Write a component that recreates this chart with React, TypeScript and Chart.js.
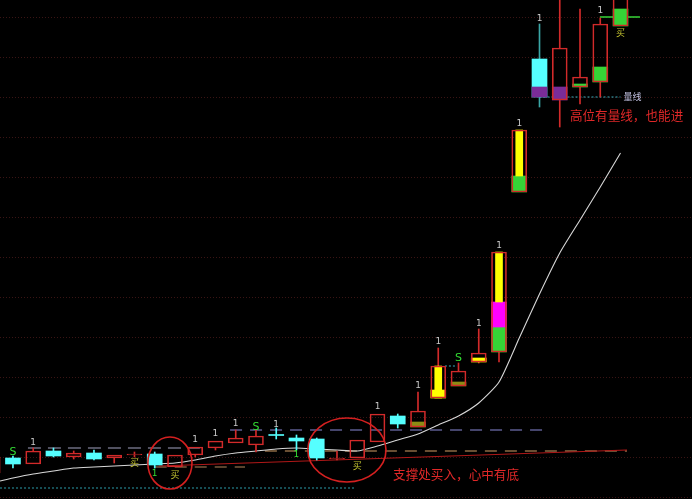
import React, { useEffect, useRef } from 'react';
import { Chart, registerables } from 'chart.js';

Chart.register(...registerables);

// ---------------- data ----------------
const candleIdx = [-1, 0, 1, 2, 3, 4, 5, 6, 7, 8, 9, 10, 11, 12, 13, 14, 15, 16, 17, 18, 19, 20, 21, 22, 23, 24, 25, 26, 27, 28, 29, 30];
const candleKind = ['r', 'c', 'r', 'c', 'r', 'c', 'r', 'r', 'c', 'r', 'r', 'r', 'r', 'r', 'c', 'c', 'c', 'r', 'r', 'r', 'c', 'r', 'r', 'r', 'r', 'r', 'r', 't', 'r', 'r', 'r', 'r'];
const bodyLow = [2.4, 3.3, 3.3, 4.1, 4.0, 3.8, 3.9, 4.2, 3.2, 3.0, 4.2, 4.9, 5.4, 5.2, 6.15, 5.6, 3.9, 3.8, 3.9, 5.5, 7.3, 7.0, 9.9, 11.1, 13.5, 14.5, 30.5, 40.0, 39.7, 41.0, 41.5, 47.1];
const bodyHigh = [4.0, 3.9, 4.6, 4.6, 4.4, 4.4, 4.2, 4.3, 4.3, 4.2, 5.0, 5.6, 5.9, 6.1, 6.25, 5.9, 5.8, 3.9, 5.7, 8.3, 8.1, 8.6, 13.1, 12.6, 14.4, 24.5, 36.7, 43.8, 44.9, 42.0, 47.3, 51.0];
const wickLow = [2.4, 2.9, 3.3, 4.0, 3.8, 3.7, 3.4, 4.0, 2.9, 3.0, 4.0, 4.7, 5.4, 4.5, 5.8, 4.7, 3.7, 3.7, 3.9, 5.5, 6.9, 7.0, 9.9, 11.1, 13.4, 13.5, 30.5, 39.0, 37.0, 39.3, 40.0, 47.1];
const wickHigh = [4.0, 4.1, 4.9, 4.9, 4.6, 4.7, 4.2, 4.5, 4.5, 4.2, 5.0, 5.6, 6.7, 6.7, 6.9, 6.2, 5.9, 4.6, 5.7, 8.3, 8.3, 10.5, 14.9, 13.4, 16.8, 24.5, 36.7, 47.3, 49.7, 48.8, 47.9, 51.0];

const oliveIdx = [20, 22];
const oliveLow = [7.0, 11.1];
const oliveHigh = [7.5, 11.5];
const yellowIdx = [21, 23];
const yellowLow = [9.9, 13.5];
const yellowHigh = [10.7, 13.9];
const yellowBarIdx = [21, 24, 25];
const yellowBarLow = [9.9, 19.5, 32.1];
const yellowBarHigh = [13.1, 24.5, 36.7];
const magentaIdx = [24];
const magentaLow = [17.0];
const magentaHigh = [19.5];
const greenIdx = [24, 25, 28, 29, 30];
const greenLow = [14.5, 30.5, 41.0, 41.5, 47.1];
const greenHigh = [17.0, 32.1, 41.3, 43.0, 48.8];
const purpleIdx = [26, 27];
const purpleLow = [40.0, 39.7];
const purpleHigh = [41.0, 41.0];

const maIdx = [-0.64, 0, 1, 2, 3, 4, 5, 6, 7, 8, 9, 10, 11, 12, 13, 14, 15, 16, 17, 18, 19, 20, 21, 22, 23, 24, 25, 26, 27, 28, 29, 30];
const maVal = [1.6, 1.9, 2.3, 2.6, 2.9, 3.0, 3.1, 3.2, 3.3, 3.4, 3.7, 4.1, 4.4, 4.6, 4.8, 4.9, 4.8, 4.7, 4.6, 5.1, 5.7, 6.3, 7.2, 8.1, 9.4, 11.5, 15.9, 20.3, 24.4, 27.7, 31.0, 34.4];

const levelStart = [0.74, 10.72, 7.0, 12.44, -0.64, 26.0, 21.33, 28.98];
const levelEnd = [9.23, 26.27, 11.46, 30.32, 16.9, 30.0, 21.93, 30.96];
const levelValue = [4.9, 6.7, 3.0, 4.6, 0.9, 40.0, 13.1, 48.0];

const supportIdx = [7.2, 30.32];
const supportVal = [3.1, 4.7];

const markIdx = [0, 1, 9, 10, 11, 12, 13, 7, 14, 6, 8, 17, 18, 20, 21, 22, 23, 24, 25, 26, 29, 30];
const markVal = [4.5, 5.4, 5.7, 6.3, 7.3, 7.0, 7.2, 2.3, 4.2, 3.4, 2.2, 3.1, 9.0, 11.1, 15.5, 13.9, 17.3, 25.1, 37.3, 47.8, 48.6, 46.4];
const markText = ['S', '1', '1', '1', '1', 'S', '1', '1', '1', '买', '买', '买', '1', '1', '1', 'S', '1', '1', '1', '1', '1', '买'];
const markKind = ['s', 'w', 'w', 'w', 'w', 's', 'w', 'g', 'g', 'b', 'b', 'b', 'w', 'w', 'w', 's', 'w', 'w', 'w', 'w', 'w', 'b'];

const ellipseIdx = [7.75, 16.49];
const ellipseVal = [3.4, 4.7];
const ellipseRx = [1.09, 1.93];
const ellipseRy = [2.6, 3.2];

const noteIdx = [27.5, 18.77];
const noteVal = [38.2, 2.3];
const noteText = ['高位有量线，也能进', '支撑处买入，心中有底'];

const levelTagIdx = [30.15];
const levelTagVal = [40.0];
const levelTagText = ['量线'];

const gridLevels = [0, 4, 8, 12, 16, 20, 24, 28, 32, 36, 40, 44, 48];

// ---------------- styles ----------------
const RED = '#d22a2a';
const CYAN = '#55ffff';
const TEAL = '#3aa6a6';
const levelColors = ['#6c6c80', '#5c5c90', '#7a5a3c', '#8c6a44', '#2a9aa8', '#3ab0c0', '#3ab0c0', '#36d436'];
const levelDashes = [[13, 7], [12, 8], [12, 8], [12, 8], [2, 2], [2, 2], [2, 2], []];
const markColors: Record<string, string> = { s: '#33dd33', w: '#c8c8c8', g: '#33dd33', b: '#c4c430' };

const pts = (idx: number[], lo: number[], hi: number[]) => idx.map((v, k) => ({ x: v, y: [lo[k], hi[k]] }));

const overlayPlugin = {
  id: 'overlay',
  afterDatasetsDraw(chart: any) {
    const { ctx, scales } = chart;
    const x = scales.x;
    const y = scales.y;
    ctx.save();
    ellipseIdx.forEach((ci, k) => {
      const cx = x.getPixelForValue(ci);
      const cy = y.getPixelForValue(ellipseVal[k]);
      const rx = x.getPixelForValue(ci + ellipseRx[k]) - cx;
      const ry = cy - y.getPixelForValue(ellipseVal[k] + ellipseRy[k]);
      ctx.beginPath();
      ctx.ellipse(cx, cy, rx, ry, 0, 0, Math.PI * 2);
      ctx.strokeStyle = '#d42020';
      ctx.lineWidth = 1.6;
      ctx.stroke();
    });
    ctx.textAlign = 'center';
    ctx.textBaseline = 'middle';
    markIdx.forEach((mi, k) => {
      const kind = markKind[k];
      if (kind === 's') ctx.font = '11px "DejaVu Sans"';
      else if (kind === 'b') ctx.font = '9px "Noto Sans CJK SC"';
      else ctx.font = '9px "DejaVu Sans"';
      ctx.fillStyle = markColors[kind];
      ctx.fillText(markText[k], x.getPixelForValue(mi), y.getPixelForValue(markVal[k]));
    });
    ctx.textAlign = 'left';
    ctx.font = '9px "Noto Sans CJK SC"';
    ctx.fillStyle = '#c0c0e0';
    levelTagIdx.forEach((ti, k) => {
      ctx.fillText(levelTagText[k], x.getPixelForValue(ti), y.getPixelForValue(levelTagVal[k]));
    });
    ctx.font = '12.6px "Noto Sans CJK SC"';
    ctx.fillStyle = '#e02828';
    noteIdx.forEach((ni, k) => {
      ctx.fillText(noteText[k], x.getPixelForValue(ni), y.getPixelForValue(noteVal[k]));
    });
    ctx.restore();
  },
};

export default function App() {
  const ref = useRef<HTMLCanvasElement | null>(null);

  useEffect(() => {
    document.body.style.margin = '0';
    document.body.style.background = '#000';
    if (!ref.current) return;

    const hollow = candleIdx.map((v, k) => ({ k, v })).filter((o) => candleKind[o.k] === 'r');
    const solid = candleIdx.map((v, k) => ({ k, v })).filter((o) => candleKind[o.k] !== 'r');
    const wickColor = (k: number) => (candleKind[k] === 'r' ? RED : candleKind[k] === 't' ? TEAL : CYAN);
    const upper = candleIdx.map((v, k) => ({ k, v })).filter((o) => wickHigh[o.k] > bodyHigh[o.k]);
    const lower = candleIdx.map((v, k) => ({ k, v })).filter((o) => wickLow[o.k] < bodyLow[o.k]);

    const barBase = { type: 'bar' as const, grouped: false, borderSkipped: false as const, barThickness: 15 };

    const datasets: any[] = [
      {
        ...barBase,
        order: 1,
        data: hollow.map((o) => ({ x: o.v, y: [bodyLow[o.k], bodyHigh[o.k]] })),
        backgroundColor: 'rgba(0,0,0,0)',
        borderColor: RED,
        borderWidth: 1,
      },
      { ...barBase, order: 2, barThickness: 7, data: pts(yellowBarIdx, yellowBarLow, yellowBarHigh), backgroundColor: '#ffff00', borderWidth: 0 },
      { ...barBase, order: 3, data: pts(yellowIdx, yellowLow, yellowHigh), backgroundColor: '#ffff00', borderWidth: 0 },
      { ...barBase, order: 3, data: pts(oliveIdx, oliveLow, oliveHigh), backgroundColor: '#8c8c14', borderWidth: 0 },
      { ...barBase, order: 3, data: pts(magentaIdx, magentaLow, magentaHigh), backgroundColor: '#ff00ff', borderWidth: 0 },
      { ...barBase, order: 3, data: pts(greenIdx, greenLow, greenHigh), backgroundColor: '#36d436', borderWidth: 0 },
      { ...barBase, order: 3, data: pts(purpleIdx, purpleLow, purpleHigh), backgroundColor: '#7a2c98', borderWidth: 0 },
      {
        ...barBase,
        order: 4,
        data: solid.map((o) => ({ x: o.v, y: [bodyLow[o.k], bodyHigh[o.k]] })),
        backgroundColor: CYAN,
        borderWidth: 0,
      },
      {
        ...barBase,
        order: 5,
        barThickness: 1,
        data: upper.map((o) => ({ x: o.v, y: [bodyHigh[o.k], wickHigh[o.k]] })),
        backgroundColor: upper.map((o) => wickColor(o.k)),
        borderWidth: 0,
      },
      {
        ...barBase,
        order: 5,
        barThickness: 1,
        data: lower.map((o) => ({ x: o.v, y: [wickLow[o.k], bodyLow[o.k]] })),
        backgroundColor: lower.map((o) => wickColor(o.k)),
        borderWidth: 0,
      },
      {
        type: 'line',
        order: 6,
        data: maIdx.map((v, k) => ({ x: v, y: maVal[k] })),
        borderColor: '#d8d8d8',
        borderWidth: 1.1,
        pointRadius: 0,
        tension: 0.2,
        fill: false,
      },
      {
        type: 'line',
        order: 7,
        data: supportIdx.map((v, k) => ({ x: v, y: supportVal[k] })),
        borderColor: '#b01818',
        borderWidth: 1.2,
        pointRadius: 0,
        fill: false,
      },
      ...levelStart.map((s, k) => ({
        type: 'line',
        order: 7,
        data: [
          { x: s, y: levelValue[k] },
          { x: levelEnd[k], y: levelValue[k] },
        ],
        borderColor: levelColors[k],
        borderDash: levelDashes[k],
        borderWidth: k === 4 || k === 5 || k === 6 ? 1 : 1.5,
        pointRadius: 0,
        fill: false,
      })),
    ];

    const chart = new Chart(ref.current, {
      type: 'bar',
      data: { datasets },
      options: {
        animation: false,
        responsive: false,
        maintainAspectRatio: false,
        layout: { padding: 0 },
        plugins: { legend: { display: false }, tooltip: { enabled: false } },
        scales: {
          x: { type: 'linear', min: -0.64, max: 33.53, display: false, offset: false },
          y: {
            type: 'linear',
            min: -0.2,
            max: 49.7,
            display: true,
            afterBuildTicks: (scale: any) => {
              scale.ticks = gridLevels.map((v) => ({ value: v }));
            },
            ticks: { display: false },
            grid: { color: '#3a1414', drawTicks: false, lineWidth: 1 },
            border: { display: false, dash: [1, 2] },
          },
        },
      } as any,
      plugins: [overlayPlugin],
    });

    return () => chart.destroy();
  }, []);

  return (
    <div style={{ width: 692, height: 499, background: '#000' }}>
      <canvas ref={ref} width={692} height={499} style={{ display: 'block' }} />
    </div>
  );
}
